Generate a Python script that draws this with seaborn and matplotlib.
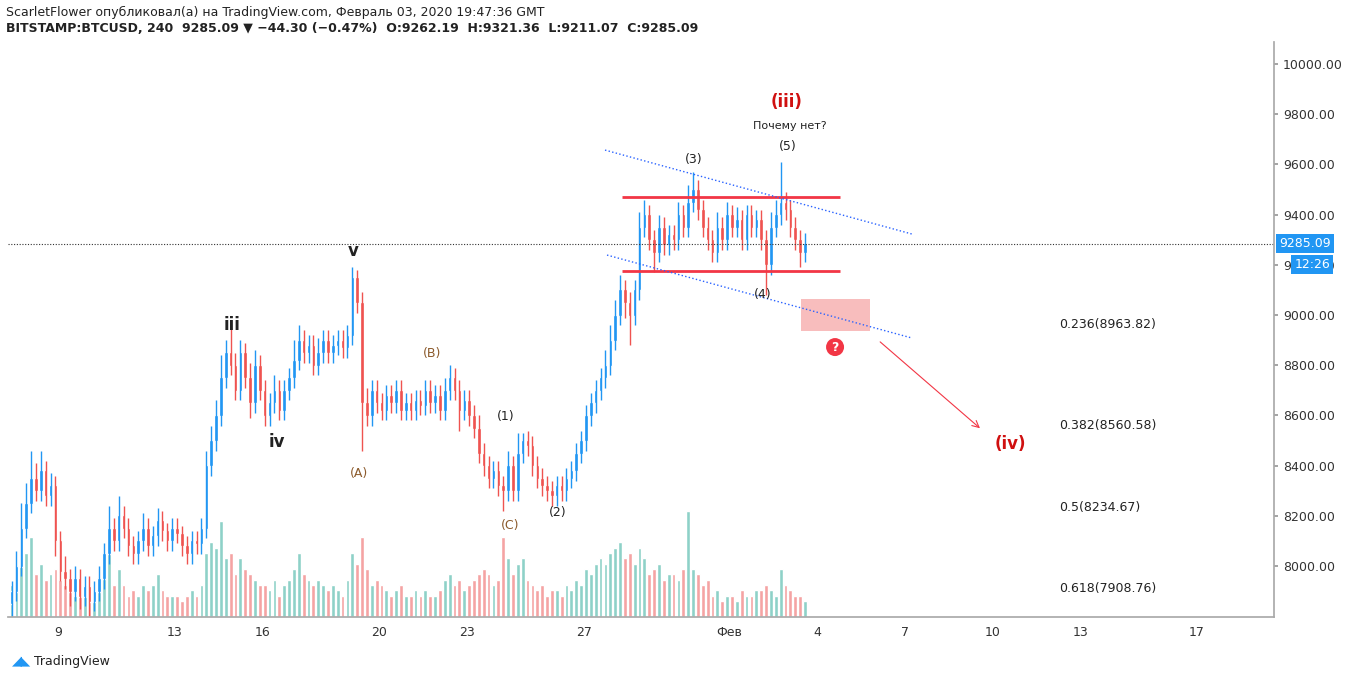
import numpy as np
import matplotlib
matplotlib.use("Agg")
import matplotlib.pyplot as plt
import seaborn as sns

# ---- data (4h candles, first candle Jan 7 08:00) ----
closes = [7900, 8000, 8150, 8250,
          8350, 8300, 8380, 8280, 8320, 8100,
          7980, 7950, 7900, 7950, 7880, 7920,
          7860, 7900, 7950, 8050, 8150, 8100,
          8200, 8150, 8080, 8050, 8100, 8150,
          8080, 8120, 8180, 8140, 8100, 8150,
          8130, 8080, 8050, 8100, 8090, 8150,
          8400, 8500, 8600, 8750, 8850, 8800,
          8700, 8850, 8750, 8650, 8800, 8700,
          8600, 8650, 8700, 8620, 8700, 8750,
          8820, 8900, 8850, 8880, 8800, 8850,
          8900, 8850, 8880, 8900, 8870, 8920,
          9150, 9050, 8650, 8600, 8700, 8650,
          8620, 8680, 8650, 8700, 8620, 8650,
          8620, 8660, 8640, 8700, 8650, 8680,
          8620, 8700, 8750, 8700, 8620, 8660,
          8600, 8550, 8450, 8400, 8350, 8380,
          8320, 8300, 8400, 8300, 8450, 8500,
          8480, 8400, 8350, 8320, 8300, 8280,
          8320, 8300, 8350, 8380, 8450, 8500,
          8600, 8650, 8700, 8750, 8800, 8900,
          9000, 9100, 9050, 9000, 9100, 9350,
          9400, 9300, 9250, 9350, 9280, 9320,
          9300, 9400, 9350, 9450, 9500, 9420,
          9350, 9300, 9250, 9350, 9300, 9400,
          9350, 9380, 9300, 9400, 9350, 9380,
          9300, 9200, 9350, 9400, 9450, 9420,
          9350, 9300, 9250, 9285]
first_open = 7850
wick_up = [40, 60, 100, 80,
           110, 60, 80, 40, 50, 40,
           40, 60, 40, 50, 40, 40,
           40, 40, 50, 40, 90, 40,
           80, 40, 40, 40, 40, 60,
           40, 40, 50, 40, 30, 40,
           40, 30, 40, 40, 40, 40,
           60, 60, 60, 90, 50, 100,
           50, 50, 40, 60, 60, 40,
           40, 40, 60, 40, 40, 40,
           80, 60, 40, 40, 40, 60,
           40, 40, 40, 40, 40, 40,
           40, 30, 40, 60, 40, 40,
           40, 40, 40, 40, 40, 40,
           40, 40, 40, 40, 40, 40,
           40, 50, 50, 40, 40, 40,
           40, 40, 50, 40, 40, 40,
           40, 40, 60, 40, 80, 30,
           40, 40, 40, 40, 40, 40,
           40, 40, 40, 40, 40, 40,
           40, 40, 40, 40, 60, 60,
           60, 60, 40, 40, 40, 60,
           60, 40, 40, 50, 40, 40,
           40, 50, 40, 70, 70, 40,
           40, 40, 40, 60, 40, 50,
           40, 50, 40, 40, 40, 40,
           40, 40, 60, 60, 160, 40,
           40, 40, 40, 40]
wick_dn = [60, 40, 40, 40,
           40, 40, 40, 40, 40, 60,
           40, 40, 60, 40, 50, 40,
           60, 40, 40, 40, 40, 40,
           40, 40, 40, 40, 40, 40,
           40, 40, 40, 40, 40, 40,
           40, 40, 40, 40, 40, 40,
           40, 40, 40, 40, 40, 40,
           40, 40, 40, 60, 40, 40,
           40, 40, 40, 40, 40, 40,
           40, 40, 40, 40, 40, 40,
           40, 40, 40, 40, 40, 40,
           40, 40, 190, 40, 40, 40,
           40, 40, 40, 40, 40, 40,
           40, 40, 40, 40, 40, 40,
           40, 40, 40, 40, 80, 40,
           40, 40, 40, 40, 40, 40,
           40, 80, 40, 40, 40, 40,
           40, 40, 40, 40, 40, 40,
           40, 40, 40, 40, 40, 40,
           40, 40, 40, 40, 40, 40,
           40, 40, 60, 120, 40, 40,
           40, 40, 80, 40, 40, 40,
           40, 40, 40, 40, 40, 40,
           40, 40, 40, 40, 40, 40,
           40, 40, 40, 40, 40, 40,
           40, 120, 40, 40, 40, 40,
           40, 40, 60, 40]
volume = [30, 45, 80, 60,
          75, 40, 50, 35, 40, 45,
          35, 30, 25, 20, 30, 25,
          20, 25, 30, 40, 60, 30,
          45, 30, 20, 25, 20, 30,
          25, 30, 40, 25, 20, 20,
          20, 15, 20, 25, 20, 30,
          60, 70, 65, 90, 55, 60,
          40, 55, 45, 40, 35, 30,
          30, 25, 35, 20, 30, 35,
          45, 60, 40, 35, 30, 35,
          30, 25, 30, 25, 20, 35,
          60, 50, 75, 45, 30, 35,
          30, 25, 20, 25, 30, 20,
          20, 25, 20, 25, 20, 20,
          25, 35, 40, 30, 35, 25,
          30, 35, 40, 45, 40, 30,
          35, 75, 55, 40, 50, 55,
          35, 30, 25, 30, 20, 25,
          25, 20, 30, 25, 35, 30,
          45, 40, 50, 55, 50, 60,
          65, 70, 55, 60, 50, 65,
          55, 40, 45, 50, 35, 40,
          40, 35, 45, 100, 45, 40,
          30, 35, 20, 25, 15, 20,
          20, 15, 25, 20, 20, 25,
          25, 30, 25, 20, 45, 30,
          25, 20, 20, 15]

yticks = [8000, 8200, 8400, 8600, 8800, 9000, 9200, 9400, 9600, 9800, 10000]
xtick_pos = [9, 13, 16, 20, 23, 27, 32, 35, 38, 41, 44, 48]
xtick_lab = ["9", "13", "16", "20", "23", "27", "Фев", "4", "7", "10", "13", "17"]
fib_labels = ["0.236(8963.82)", "0.382(8560.58)", "0.5(8234.67)", "0.618(7908.76)"]
fib_prices = [8963.82, 8560.58, 8234.67, 7908.76]

# ---- drawing ----
sns.set_theme(style="white")
fig = plt.figure(figsize=(13.48, 6.79), dpi=100)
ax = fig.add_axes([8/1348, 1-617/679, (1274-8)/1348, (617-42)/679])
n = len(closes)
t = 7.333 + np.arange(n) / 6.0 + 0.08
opens = [first_open] + closes[:-1]
highs = [max(o, c) + w for o, c, w in zip(opens, closes, wick_up)]
lows = [min(o, c) - w for o, c, w in zip(opens, closes, wick_dn)]
up = np.array(closes) >= np.array(opens)
UPC, DNC = "#2196F3", "#EF5350"

axv = ax.twinx()
axv.bar(t, volume, width=0.13, color=np.where(up, "#8ED1C8", "#F5A3A3"), zorder=1)
axv.set_ylim(0, 540)
axv.axis("off")
ax.set_zorder(axv.get_zorder() + 1)
ax.patch.set_visible(False)

cols = np.where(up, UPC, DNC)
ax.vlines(t, lows, highs, colors=cols, linewidth=1)
ax.bar(t, np.abs(np.array(closes) - np.array(opens)) + 4, bottom=np.minimum(opens, closes) - 2,
       width=0.12, color=cols)

def px(x_px):
    return 9 + (x_px - 58) / 29.2

def py(y_px):
    return 10000 - (y_px - 64) * 3.984

ax.set_xlim(7.29, 50.64)
ax.set_ylim(7797, 10088)
ax.yaxis.tick_right()
ax.set_yticks(yticks)
ax.set_yticklabels([f"{v:.2f}" for v in yticks], fontsize=9, color="#333")
ax.set_xticks(xtick_pos)
ax.set_xticklabels(xtick_lab, fontsize=9, color="#333")
ax.tick_params(length=3, color="#999")
for s in ax.spines.values():
    s.set_color("#aaa")
ax.spines["top"].set_visible(False)
ax.spines["left"].set_visible(False)

# current price line
ax.axhline(9285.09, color="#333", linestyle=(0, (1, 1.5)), linewidth=0.8)
ax.text(1.004, 9285.09, "9285.09", transform=ax.get_yaxis_transform(), fontsize=9,
        color="white", va="center", ha="left", zorder=10,
        bbox=dict(boxstyle="square,pad=0.25", fc="#2196F3", ec="none"))
ax.text(1.016, 9200, "12:26", transform=ax.get_yaxis_transform(), fontsize=9,
        color="white", va="center", ha="left", zorder=10,
        bbox=dict(boxstyle="square,pad=0.25", fc="#2196F3", ec="none"))

# red range lines
ax.hlines([9470, 9175], px(622), px(840), color="#F23645", linewidth=2)
# channel
ax.plot([px(605), px(912)], [py(150), py(234)], color="#2962FF", linestyle=":", linewidth=1)
ax.plot([px(607), px(912)], [py(255), py(338)], color="#2962FF", linestyle=":", linewidth=1)
# pink box
ax.add_patch(plt.Rectangle((px(801), py(331)), px(870) - px(801), py(299) - py(331),
                           color="#F7B2B2", alpha=0.85, lw=0))
# arrow
ax.annotate("", xy=(px(982), py(430)), xytext=(px(878), py(340)),
            arrowprops=dict(arrowstyle="->", color="#F23645", lw=0.8))
# question mark
ax.text(px(835), py(347), "?", fontsize=9, fontweight="bold", color="white", ha="center", va="center",
        bbox=dict(boxstyle="circle,pad=0.2", fc="#F23645", ec="none"))

# fib labels
for lab_, p in zip(fib_labels, fib_prices):
    ax.text(px(1059), p, lab_, fontsize=9, color="#222", va="center")

# wave labels
def lab(x_px, y_px, s, **kw):
    ax.text(px(x_px), py(y_px), s, ha="center", va="center", **kw)

lab(232, 325, "iii", fontsize=12, fontweight="bold", color="#222")
lab(277, 442, "iv", fontsize=12, fontweight="bold", color="#222")
lab(353, 251, "v", fontsize=12, fontweight="bold", color="#222")
brown = "#8B5A2B"
lab(359, 473, "(A)", fontsize=9, color=brown)
lab(432, 353, "(B)", fontsize=9, color=brown)
lab(510, 525, "(C)", fontsize=9, color=brown)
lab(506, 416, "(1)", fontsize=9, color="#222")
lab(558, 512, "(2)", fontsize=9, color="#222")
lab(694, 159, "(3)", fontsize=9, color="#222")
lab(763, 294, "(4)", fontsize=9, color="#222")
lab(788, 146, "(5)", fontsize=9, color="#222")
lab(787, 102, "(iii)", fontsize=12, fontweight="bold", color="#D01010")
lab(790, 126, "Почему нет?", fontsize=8, color="#222")
lab(1010, 444, "(iv)", fontsize=12, fontweight="bold", color="#D01010")

# header / footer
fig.text(6/1348, 1-12/679, "ScarletFlower опубликовал(а) на TradingView.com, Февраль 03, 2020 19:47:36 GMT",
         fontsize=9, color="#222", va="center")
fig.text(6/1348, 1-29/679, "BITSTAMP:BTCUSD, 240  9285.09 ▼ −44.30 (−0.47%)  O:9262.19  H:9321.36  L:9211.07  C:9285.09",
         fontsize=9, color="#222", va="center", fontweight="bold")
fig.text(34/1348, 1-661/679, "TradingView", fontsize=9, color="#222", va="center")
fig.text(12/1348, 1-661/679, "◢◣", fontsize=9, color="#2196F3", va="center")

fig.savefig("out.png", dpi=100)
